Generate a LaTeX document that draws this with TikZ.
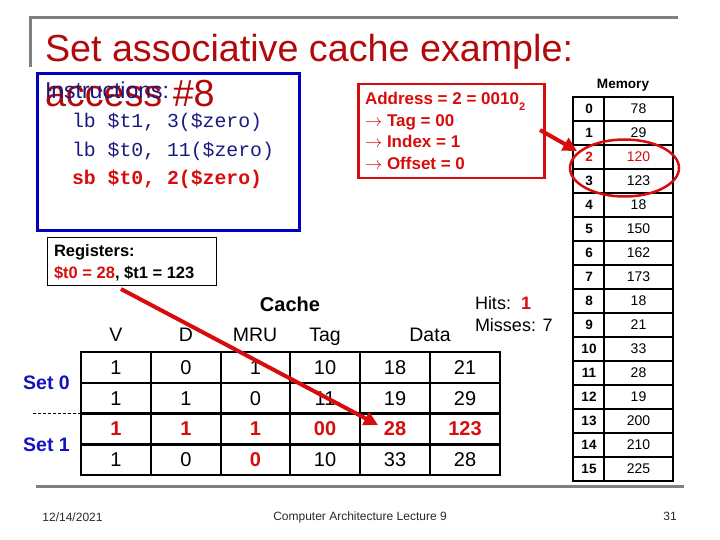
\documentclass[tikz,border=0pt]{standalone}
\usepackage{fontspec}
\setmainfont{Liberation Sans}
\setmonofont{Liberation Mono}
\usetikzlibrary{arrows.meta,shapes.geometric}

\definecolor{titlered}{RGB}{178,10,10}
\definecolor{hired}{RGB}{215,12,12}
\definecolor{boxblue}{RGB}{0,0,190}
\definecolor{navy}{RGB}{25,25,128}
\definecolor{setblue}{RGB}{20,20,190}
\definecolor{framegray}{RGB}{128,128,128}
\definecolor{foot}{RGB}{40,40,40}

\newcommand\myfs[1]{\fontsize{#1}{#1}\selectfont}

\begin{document}
\begin{tikzpicture}[x=1pt,y=-1pt,
  txt/.style={inner sep=0pt, outer sep=0pt},
  bl/.style={txt, anchor=base west},
  frameline/.style={draw=framegray, line width=3pt},
  redarrow/.style={draw=hired, line width=4pt, -{Triangle[length=14pt,width=14pt]}},
  cell/.style={txt, anchor=center, font=\myfs{20}},
  hot/.style={text=hired, font=\myfs{20}\bfseries},
  memidx/.style={txt, anchor=center, font=\myfs{13.5}\bfseries},
  memval/.style={txt, anchor=center, font=\myfs{14}},
  hdr/.style={txt, anchor=base, font=\myfs{19.5}}]
\useasboundingbox (0,0) rectangle (720,540);

% frame lines
\draw[frameline] (30,67) -- (30,18) -- (678,18);
\draw[frameline] (36,486) -- (684,486);

% title
\node[bl, text=titlered] (title) at (45,62) {\myfs{37.7}Set associative cache example:};

% instructions box
\node[draw=boxblue, line width=3pt, minimum width=262pt, minimum height=157pt, anchor=north west, inner sep=0pt] (instr) at (36,72) {};
\node[bl, text=titlered] (acc) at (45,107) {\myfs{37.7}access \#8};
\node[bl, text=navy] (ilabel) at (45,99) {\myfs{23}Instructions:};
\node[bl, text=navy] (c1) at (72,128) {\myfs{19.8}\ttfamily lb \$t1, 3(\$zero)};
\node[bl, text=navy] (c2) at (72,156.5) {\myfs{19.8}\ttfamily lb \$t0, 11(\$zero)};
\node[bl, text=hired] (c3) at (72,185) {\myfs{19.8}\ttfamily\bfseries sb \$t0, 2(\$zero)};

% address box
\node[draw=hired, line width=2.5pt, minimum width=186pt, minimum height=94pt, anchor=north west, inner sep=0pt] (addr) at (357,83) {};
\node[bl, text=hired] (ad1) at (365,105) {\myfs{17}\bfseries Address = 2 = 0010\raisebox{-0.3em}{\myfs{11}2}};
\node[bl, text=hired] (ad2) at (365,126.5) {\myfs{17}\bfseries $\rightarrow$ Tag = 00};
\node[bl, text=hired] (ad3) at (365,148) {\myfs{17}\bfseries $\rightarrow$ Index = 1};
\node[bl, text=hired] (ad4) at (365,169.5) {\myfs{17}\bfseries $\rightarrow$ Offset = 0};

% memory
\node[txt, anchor=base, font=\myfs{13.6}\bfseries] (memlabel) at (623,89) {Memory};
\draw[line width=2.5pt] (573,97) rectangle (673,481);
\draw[line width=2.5pt] (604,97) -- (604,481);
\foreach \i in {1,...,15} {\draw[line width=2.5pt] (573,97+24*\i) -- (673,97+24*\i);}
\foreach \v [count=\i from 0] in {78,29,120,123,18,150,162,173,18,21,33,28,19,200,210,225} {
  \node[memidx] (mi\i) at (589,109+24*\i) {\i};
  \node[memval] (mv\i) at (638.5,109+24*\i) {\v};
}
\node[memidx, text=hired, fill=white, inner sep=1pt] at (mi2) {2};
\node[memval, text=hired, fill=white, inner sep=1pt] at (mv2) {120};
\node[draw=hired, line width=2.5pt, ellipse, minimum width=109pt, minimum height=57pt, inner sep=0pt] (circ) at (624.5,168) {};

% registers box
\node[draw, line width=1pt, minimum width=169pt, minimum height=48pt, anchor=north west, inner sep=0pt] (reg) at (47,237) {};
\node[bl] (r1) at (54,256) {\myfs{16.5}\bfseries Registers:};
\node[bl] (r2) at (54,278) {\myfs{16.5}\bfseries\textcolor{hired}{\$t0 = 28}, \$t1 = 123};

% cache heading
\node[txt, anchor=base, font=\myfs{20}\bfseries] (cachelabel) at (290,311) {Cache};
\node[bl] (hits) at (475,309) {\myfs{18}Hits:\ \ \textcolor{hired}{\bfseries 1}};
\node[bl] (miss) at (475,331) {\myfs{18}Misses: 7};

\node[hdr] (hV) at (116,341) {V};
\node[hdr] (hD) at (186,341) {D};
\node[hdr] (hM) at (255,341) {MRU};
\node[hdr] (hT) at (325,341) {Tag};
\node[hdr] (hDa) at (430,341) {Data};

% cache table
\draw[line width=2.5pt] (81,352) rectangle (500,475);
\foreach \x in {151,221,290,360,430} {\draw[line width=2.5pt] (\x,352) -- (\x,475);}
\foreach \y in {382.75,413.5,444.25} {\draw[line width=2.5pt] (81,\y) -- (500,\y);}

\foreach \a/\b/\c/\d/\e/\f [count=\r from 0] in {1/0/1/10/18/21, 1/1/0/11/19/29, 1/0/0/10/33/28} {
  \pgfmathsetmacro\yy{\r<2 ? 367.4+30.75*\r : 459.6}
  \node[cell] (cv\r) at (116,\yy) {\a};
  \node[cell] (cd\r) at (186,\yy) {\b};
  \node[cell] (cm\r) at (255.5,\yy) {\c};
  \node[cell] (ct\r) at (325,\yy) {\d};
  \node[cell] (ce\r) at (395,\yy) {\e};
  \node[cell] (cf\r) at (465,\yy) {\f};
}
\node[cell, hot, fill=white, inner sep=1pt] at (cm2) {0};
\node[cell, hot] (hv) at (116,428.9) {1};
\node[cell, hot] (hd) at (186,428.9) {1};
\node[cell, hot] (hm) at (255.5,428.9) {1};
\node[cell, hot] (ht) at (325,428.9) {00};
\node[cell, hot] (he) at (395,428.9) {28};
\node[cell, hot] (hf) at (465,428.9) {123};

% sets
\node[txt, anchor=center, text=setblue, font=\myfs{19.5}\bfseries] (s0) at (46.5,382.5) {Set 0};
\node[txt, anchor=center, text=setblue, font=\myfs{19.5}\bfseries] (s1) at (46.5,444.5) {Set 1};
\coordinate (dl) at (33,413.5);
\coordinate (dr) at (81,413.5);
\draw[line width=1pt, dash pattern=on 3pt off 2pt] (dl) -- (dr);

% footer
\node[txt, anchor=center, text=foot, font=\myfs{12}] (date) at (72.5,517) {12/14/2021};
\node[txt, anchor=center, text=foot, font=\myfs{12}] (course) at (360,517) {Computer Architecture Lecture 9};
\node[txt, anchor=center, text=foot, font=\myfs{12}] (page) at (670,516) {31};

% arrows
\coordinate (a1s) at (540,130);
\coordinate (a1e) at (577,151);
\draw[redarrow] (a1s) -- (a1e);
\coordinate (a2s) at (121,289);
\coordinate (a2e) at (378,425);
\draw[redarrow] (a2s) -- (a2e);
\end{tikzpicture}
\end{document}
